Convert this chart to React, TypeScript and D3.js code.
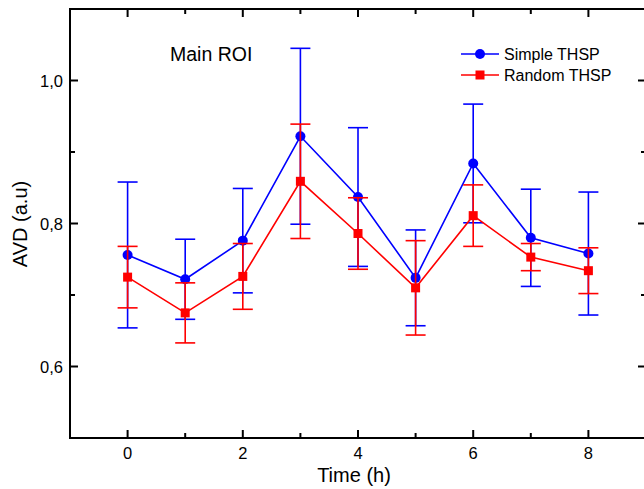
import React from "react";
import * as d3 from "d3";

const times = [0, 1, 2, 3, 4, 5, 6, 7, 8];
const simpleMean = [0.756, 0.722, 0.776, 0.922, 0.837, 0.724, 0.884, 0.78, 0.758];
const simpleErr = [0.102, 0.056, 0.073, 0.123, 0.097, 0.067, 0.083, 0.068, 0.086];
const randomMean = [0.725, 0.675, 0.726, 0.859, 0.786, 0.71, 0.811, 0.753, 0.734];
const randomErr = [0.043, 0.042, 0.046, 0.08, 0.05, 0.066, 0.043, 0.019, 0.032];
const xMajorTicks = [0, 2, 4, 6, 8];
const xMinorTicks = [1, 3, 5, 7];
const yMajorTicks = [0.6, 0.8, 1.0];
const yMinorTicks = [0.7, 0.9];

const FONT = "'Liberation Sans', Arial, sans-serif";

export default function App() {
  const left = 70, right = 646, top = 9, bottom = 438;
  const x = d3.scaleLinear().domain([-1, 9]).range([left, right]);
  const y = d3.scaleLinear().domain([0.5, 1.1]).range([bottom, top]);
  const fmt = (v: number) => v.toFixed(1).replace(".", ",");

  const series = [
    { mean: simpleMean, err: simpleErr, color: "#0000FF", shape: "circle" },
    { mean: randomMean, err: randomErr, color: "#FF0000", shape: "square" },
  ];

  const line = d3
    .line<number>()
    .x((_, i) => x(times[i]))
    .y((d) => y(d));

  const capW = 10;

  return (
    <svg
      width={644}
      height={489}
      style={{ position: "absolute", left: 0, top: 0, background: "#fff" }}
    >
      <rect x={0} y={0} width={644} height={489} fill="#fff" />
      {series.map((s, si) => (
        <g key={si}>
          {times.map((t, i) => {
            const cx = x(t);
            const y1 = y(s.mean[i] + s.err[i]);
            const y2 = y(s.mean[i] - s.err[i]);
            return (
              <g key={i} stroke={s.color} strokeWidth={1.6}>
                <line x1={cx} x2={cx} y1={y1} y2={y2} />
                <line x1={cx - capW} x2={cx + capW} y1={y1} y2={y1} />
                <line x1={cx - capW} x2={cx + capW} y1={y2} y2={y2} />
              </g>
            );
          })}
          <path d={line(s.mean) || ""} fill="none" stroke={s.color} strokeWidth={1.6} />
          {times.map((t, i) =>
            s.shape === "circle" ? (
              <circle key={i} cx={x(t)} cy={y(s.mean[i])} r={5} fill={s.color} />
            ) : (
              <rect
                key={i}
                x={x(t) - 4.5}
                y={y(s.mean[i]) - 4.5}
                width={9}
                height={9}
                fill={s.color}
              />
            )
          )}
        </g>
      ))}

      {/* axes frame */}
      <g stroke="#000" strokeWidth={2} fill="none">
        <line x1={left} x2={left} y1={top} y2={bottom + 1} />
        <line x1={left - 1} x2={right} y1={bottom} y2={bottom} />
        <line x1={left - 1} x2={right} y1={top} y2={top} />
        <line x1={right} x2={right} y1={top} y2={bottom} />
      </g>

      {/* x ticks */}
      <g stroke="#000" strokeWidth={2}>
        {xMajorTicks.map((t) => (
          <g key={"xm" + t}>
            <line x1={x(t)} x2={x(t)} y1={bottom} y2={bottom - 8} />
            <line x1={x(t)} x2={x(t)} y1={top} y2={top + 8} />
          </g>
        ))}
        {xMinorTicks.map((t) => (
          <g key={"xn" + t}>
            <line x1={x(t)} x2={x(t)} y1={bottom} y2={bottom - 5} />
            <line x1={x(t)} x2={x(t)} y1={top} y2={top + 5} />
          </g>
        ))}
        {yMajorTicks.map((v) => (
          <g key={"ym" + v}>
            <line x1={left} x2={left + 8} y1={y(v)} y2={y(v)} />
            <line x1={right} x2={right - 8} y1={y(v)} y2={y(v)} />
          </g>
        ))}
        {yMinorTicks.map((v) => (
          <g key={"yn" + v}>
            <line x1={left} x2={left + 5} y1={y(v)} y2={y(v)} />
            <line x1={right} x2={right - 5} y1={y(v)} y2={y(v)} />
          </g>
        ))}
      </g>

      {/* tick labels */}
      <g fontFamily={FONT} fontSize={16.5} fill="#000">
        {xMajorTicks.map((t) => (
          <text key={"xl" + t} x={x(t)} y={459} textAnchor="middle">
            {t}
          </text>
        ))}
        {yMajorTicks.map((v) => (
          <text key={"yl" + v} x={63} y={y(v) + 6} textAnchor="end">
            {fmt(v)}
          </text>
        ))}
      </g>

      {/* axis titles */}
      <text x={354} y={482} textAnchor="middle" fontFamily={FONT} fontSize={20}>
        Time (h)
      </text>
      <text
        transform={`translate(27,224) rotate(-90)`}
        textAnchor="middle"
        fontFamily={FONT}
        fontSize={20}
      >
        AVD (a.u)
      </text>

      {/* annotation */}
      <text x={170} y={61} fontFamily={FONT} fontSize={19.5}>
        Main ROI
      </text>

      {/* legend */}
      <g fontFamily={FONT} fontSize={16}>
        <line x1={461} x2={499} y1={54} y2={54} stroke="#0000FF" strokeWidth={1.6} />
        <circle cx={480} cy={54} r={5} fill="#0000FF" />
        <text x={504} y={60}>Simple THSP</text>
        <line x1={461} x2={499} y1={75} y2={75} stroke="#FF0000" strokeWidth={1.6} />
        <rect x={475.5} y={70.5} width={9} height={9} fill="#FF0000" />
        <text x={504} y={81}>Random THSP</text>
      </g>
    </svg>
  );
}
